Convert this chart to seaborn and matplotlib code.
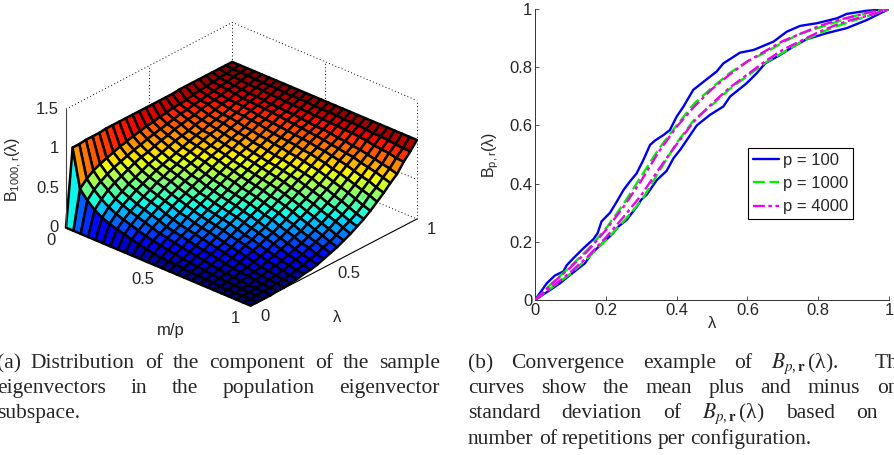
import numpy as np
import seaborn as sns
from matplotlib import pyplot as plt

W, H = 894, 455

# left panel, values (percent), rows are m/p, columns are lambda
m_grid = [0, .04, .08, .12, .16, .2, .24, .28, .32, .36, .4, .44, .48, .52, .56, .6, .64, .68, .72, .76, .8, .84, .88, .92, .96, 1]
lam_grid = [0, .04, .08, .12, .16, .2, .24, .28, .32, .36, .4, .44, .48, .52, .56, .6, .64, .68, .72, .76, .8, .84, .88, .92, .96, 1]
b_surface = [
    [0, 97, 97, 98, 98, 98, 99, 99, 99, 99, 99, 99, 99, 99, 99, 99, 99, 100, 100, 100, 100, 100, 100, 100, 100, 100],
    [0, 49, 57, 63, 67, 70, 73, 76, 78, 80, 82, 84, 85, 87, 88, 90, 90, 91, 93, 94, 95, 96, 97, 98, 99, 100],
    [0, 38, 47, 53, 58, 62, 65, 68, 71, 73, 76, 78, 80, 82, 84, 86, 87, 89, 90, 92, 93, 95, 96, 98, 99, 100],
    [0, 30, 39, 46, 51, 55, 59, 63, 66, 68, 71, 74, 76, 79, 81, 83, 84, 87, 89, 90, 92, 94, 95, 97, 99, 100],
    [0, 24, 33, 39, 44, 49, 53, 57, 61, 64, 67, 70, 73, 75, 77, 80, 82, 84, 86, 89, 90, 93, 94, 96, 98, 100],
    [0, 20, 28, 35, 40, 45, 49, 53, 57, 60, 63, 66, 69, 72, 75, 77, 80, 82, 84, 87, 90, 91, 93, 96, 98, 100],
    [0, 17, 25, 31, 36, 41, 45, 50, 53, 57, 60, 64, 67, 70, 73, 76, 78, 81, 84, 86, 89, 91, 93, 96, 98, 100],
    [0, 15, 22, 28, 33, 38, 42, 47, 51, 54, 58, 61, 64, 68, 70, 73, 76, 79, 82, 85, 88, 90, 92, 95, 98, 100],
    [0, 12, 19, 25, 30, 35, 39, 43, 47, 51, 54, 58, 62, 65, 68, 71, 74, 77, 80, 84, 86, 90, 91, 95, 97, 100],
    [0, 10, 16, 22, 27, 31, 36, 40, 44, 48, 52, 55, 59, 63, 66, 69, 73, 76, 79, 83, 85, 89, 91, 94, 97, 100],
    [0, 8, 14, 19, 23, 28, 32, 37, 41, 44, 48, 52, 56, 60, 63, 67, 70, 73, 77, 81, 84, 88, 90, 94, 97, 100],
    [0, 6, 12, 17, 21, 25, 30, 34, 38, 42, 46, 50, 54, 58, 61, 65, 68, 72, 76, 79, 83, 87, 90, 93, 97, 100],
    [0, 5, 10, 15, 19, 23, 27, 31, 35, 39, 43, 47, 52, 55, 59, 63, 66, 70, 74, 78, 82, 86, 89, 93, 96, 100],
    [0, 4, 9, 13, 17, 21, 25, 29, 33, 37, 41, 45, 49, 53, 57, 61, 64, 68, 73, 77, 81, 85, 88, 92, 96, 100],
    [0, 4, 7, 11, 15, 19, 23, 27, 31, 35, 39, 43, 47, 51, 55, 59, 63, 67, 71, 76, 80, 84, 87, 92, 96, 100],
    [0, 3, 6, 10, 13, 17, 21, 25, 29, 33, 36, 41, 45, 49, 53, 57, 61, 65, 70, 74, 79, 83, 87, 91, 96, 100],
    [0, 2, 5, 8, 12, 15, 18, 22, 26, 30, 34, 38, 42, 46, 51, 55, 59, 63, 68, 73, 77, 82, 86, 91, 95, 100],
    [0, 2, 4, 7, 10, 13, 16, 20, 23, 27, 31, 35, 39, 44, 48, 52, 57, 61, 66, 71, 76, 80, 84, 90, 95, 100],
    [0, 1, 3, 5, 8, 11, 14, 18, 21, 25, 28, 33, 37, 41, 45, 50, 54, 59, 64, 69, 74, 79, 84, 90, 95, 100],
    [0, 1, 2, 4, 6, 9, 12, 15, 18, 22, 25, 29, 33, 38, 42, 46, 51, 55, 61, 66, 72, 77, 82, 89, 94, 100],
    [0, 0, 2, 3, 5, 7, 9, 12, 15, 19, 22, 26, 30, 34, 38, 43, 48, 53, 58, 64, 70, 76, 81, 88, 93, 100],
    [0, 0, 1, 2, 4, 5, 7, 10, 13, 16, 19, 23, 26, 31, 35, 39, 44, 49, 55, 61, 67, 73, 79, 86, 93, 100],
    [0, 0, 1, 1, 3, 4, 6, 8, 10, 13, 16, 19, 23, 27, 31, 36, 41, 46, 52, 58, 64, 71, 77, 85, 92, 100],
    [0, 0, 0, 1, 2, 3, 4, 6, 8, 11, 13, 17, 20, 24, 28, 33, 37, 42, 48, 55, 62, 69, 75, 84, 91, 100],
    [0, 0, 0, 1, 1, 2, 3, 4, 6, 8, 11, 13, 17, 20, 24, 29, 33, 38, 44, 52, 58, 66, 73, 82, 90, 100],
    [0, 0, 0, 0, 1, 1, 2, 3, 5, 6, 8, 11, 14, 17, 21, 25, 30, 35, 41, 48, 55, 63, 70, 81, 90, 100],
]

# right panel, mean +/- one std per configuration
blue_up_x = [0, .033, .056, .08, .09, .108, .137, .165, .177, .188, .212, .231, .25, .268, .287, .306, .325, .339, .363, .381, .40, .419, .447, .476, .513, .532, .579, .617, .674, .711, .749, .796, .853, .88, .937, 1]
blue_up_y = [0, .057, .084, .098, .12, .143, .178, .209, .23, .27, .30, .338, .378, .407, .435, .481, .533, .548, .567, .584, .63, .664, .722, .75, .785, .813, .85, .859, .888, .922, .942, .951, .968, .983, .994, 1]
blue_lo_x = [0, .042, .07, .099, .141, .16, .188, .221, .235, .259, .287, .301, .315, .344, .372, .391, .41, .429, .457, .494, .532, .551, .598, .626, .65, .692, .73, .767, .824, .88, .937, 1]
blue_lo_y = [0, .034, .057, .086, .126, .16, .192, .23, .252, .275, .32, .346, .361, .412, .444, .487, .516, .55, .60, .636, .665, .699, .745, .779, .813, .842, .871, .896, .917, .934, .962, 1]
lam_pts = [0, .05, .1, .15, .2, .25, .3, .35, .4, .45, .5, .55, .6, .65, .7, .75, .8, .85, .9, .95, 1]
green_up = [0, .06, .115, .175, .245, .33, .425, .52, .6, .675, .73, .78, .82, .85, .885, .915, .935, .955, .975, .99, 1]
green_lo = [0, .045, .09, .145, .205, .27, .34, .44, .54, .62, .67, .725, .77, .815, .85, .885, .915, .94, .96, .98, 1]
magenta_up = [0, .058, .112, .17, .24, .32, .41, .51, .595, .665, .725, .775, .82, .855, .89, .915, .94, .96, .975, .99, 1]
magenta_lo = [0, .047, .095, .15, .215, .285, .36, .45, .535, .615, .675, .73, .775, .82, .86, .89, .92, .945, .965, .98, 1]

curve_ticks = [0, .2, .4, .6, .8, 1]
curve_tick_labels = ['0', '0.2', '0.4', '0.6', '0.8', '1']
surf_ticks = [0, .5, 1]
surf_labels = ['0', '0.5', '1']
z_ticks = [0, .5, 1, 1.5]
z_labels = ['0', '0.5', '1', '1.5']

caption_a = ['(a) Distribution of the component of the sample'.split(),
             'eigenvectors in the population eigenvector'.split(),
             ['subspace.']]
caption_b = [['(b)', 'Convergence', 'example', 'of', r'$\mathit{B}_{\mathit{p},\mathbf{r}}\,(\lambda)$.', '', 'The'],
             'curves show the mean plus and minus one'.split(),
             ['standard', 'deviation', 'of', r'$\mathit{B}_{\mathit{p},\mathbf{r}}\,(\lambda)$', 'based', 'on', 'a'],
             'number of repetitions per configuration.'.split()]


def put_line(fig, words, x0, x1, y, justify=True):
    rend = fig.canvas.get_renderer()
    items = [fig.text(0, 1 - y / H, w, family='Liberation Serif', fontsize=15.5, va='baseline',
                      math_fontfamily='stix') for w in words]
    widths = [t.get_window_extent(rend).width if t.get_text() else 0 for t in items]
    gap = (x1 - x0 - sum(widths)) / max(len(words) - 1, 1) if justify else 5
    x = x0
    for t, w in zip(items, widths):
        t.set_x(x / W)
        x += w + gap


if __name__ == "__main__":
    sns.set_style('white')
    plt.rcParams['font.family'] = 'Liberation Sans'
    plt.rcParams['mathtext.default'] = 'regular'

    fig = plt.figure(figsize=(W / 100, H / 100), dpi=100)

    # surface panel
    side = 440
    cx, cy = 235.5, 170
    ax = fig.add_axes([(cx - side / 2) / W, 1 - (cy + side / 2) / H, side / W, side / H],
                      projection='3d', computed_zorder=False)
    ax.patch.set_alpha(0)
    ax.set_proj_type('ortho')
    ax.view_init(elev=28, azim=-48)
    ax.set_xlim(0, 1, view_margin=0)
    ax.set_ylim(0, 1, view_margin=0)
    ax.set_zlim(0, 1.5, view_margin=0)
    ax.set_box_aspect((1, 1, .54), zoom=.83)
    ax.set_axis_off()

    dots = dict(color='k', lw=.7, ls=(0, (1, 2.5)), zorder=1)
    ax.plot([0, 0, 1], [0, 1, 1], [1.5, 1.5, 1.5], **dots)
    ax.plot([0, 0], [1, 1], [0, 1.5], **dots)
    ax.plot([1, 1], [1, 1], [0, 1.5], **dots)
    ax.plot([.5, .5], [1, 1], [0, 1.5], **dots)
    ax.plot([0, 0], [.5, .5], [0, 1.5], **dots)
    ax.plot([0, 1], [1, 1], [0, 0], **dots)
    for z in z_ticks[1:3]:
        ax.plot([0, 1], [1, 1], [z, z], **dots)

    M, L = np.meshgrid(m_grid, lam_grid, indexing='ij')
    Z = np.array(b_surface) / 100
    ax.plot_surface(M, L, Z, cmap='jet', vmin=0, vmax=1, rstride=1, cstride=1, shade=False,
                    edgecolor='k', linewidth=1.8, zorder=2)

    ax.plot([0, 0], [0, 0], [0, 1.5], color='#444444', lw=.8, zorder=3)
    ax.plot([0, 1], [0, 0], [0, 0], color='k', lw=.8, zorder=3)
    ax.plot([1, 1], [0, 1], [0, 0], color='k', lw=.8, zorder=3)

    for t, s in zip(surf_ticks, surf_labels):
        ax.text(t, -.09, -.06, s, ha='center', va='center', fontsize=12, zorder=4)
        ax.text(1.08, t, -.06, s, ha='center', va='center', fontsize=12, zorder=4)
    for t, s in zip(z_ticks, z_labels):
        ax.text(-.02, -.02, t, s, ha='right', va='center', fontsize=12, zorder=4)

    fig.text(171 / W, 1 - 330 / H, 'm/p', ha='center', va='center', fontsize=12)
    fig.text(337 / W, 1 - 318 / H, 'λ', ha='center', va='center', fontsize=12)
    fig.text(14 / W, 1 - 170 / H, 'B$_{1000,r}$(λ)', rotation=90, ha='center', va='center', fontsize=11.5)

    # convergence panel
    ax2 = fig.add_axes([535 / W, 1 - 300 / H, 354 / W, 291 / H])
    ax2.patch.set_alpha(0)
    line_kw = dict(ax=ax2, estimator=None, sort=False, legend=False, zorder=3)
    sns.lineplot(x=blue_up_x, y=blue_up_y, color='#0000f0', lw=1.7, label='p = 100', **line_kw)
    sns.lineplot(x=blue_lo_x, y=blue_lo_y, color='#0000f0', lw=1.7, **line_kw)
    sns.lineplot(x=lam_pts, y=green_up, color='#00f000', lw=1.7, dashes=(5, 2), label='p = 1000', **line_kw)
    sns.lineplot(x=lam_pts, y=green_lo, color='#00f000', lw=1.7, dashes=(5, 2), **line_kw)
    sns.lineplot(x=lam_pts, y=magenta_up, color='#f000f0', lw=1.7, dashes=(5, 1.5, 1.5, 1.5), label='p = 4000', **line_kw)
    sns.lineplot(x=lam_pts, y=magenta_lo, color='#f000f0', lw=1.7, dashes=(5, 1.5, 1.5, 1.5), **line_kw)

    ax2.set_xlim(0, 1)
    ax2.set_ylim(0, 1)
    ax2.set_xticks(curve_ticks, curve_tick_labels)
    ax2.set_yticks(curve_ticks, curve_tick_labels)
    ax2.tick_params(direction='in', length=3, width=.6, labelsize=12, pad=2, left=True, bottom=True, color='#333333')
    for s in ['top', 'right']:
        ax2.spines[s].set_visible(False)
    for s in ['left', 'bottom']:
        ax2.spines[s].set_linewidth(.7)
        ax2.spines[s].set_color('#333333')
    ax2.set_xlabel('λ', fontsize=12, labelpad=-1)
    ax2.set_ylabel('B$_{p,r}$(λ)', fontsize=11.5, labelpad=6)
    handles, labels = ax2.get_legend_handles_labels()
    ax2.legend(handles=handles, labels=labels, loc='center', fontsize=12, frameon=True, fancybox=False,
               edgecolor='k', framealpha=1, bbox_to_anchor=(.749, .40), borderpad=.3, labelspacing=.5,
               handlelength=1.6, handletextpad=.2, borderaxespad=0).get_frame().set_linewidth(.8)

    # captions, clipped by the page edges like the scanned page
    base = [368, 393, 418, 444]
    for i, words in enumerate(caption_a):
        put_line(fig, words, -3, 440, base[i], justify=i < 2)
    for i, words in enumerate(caption_b):
        put_line(fig, words, 468, 908, base[i], justify=i < 3)

    fig.savefig('out.png', dpi=100)
